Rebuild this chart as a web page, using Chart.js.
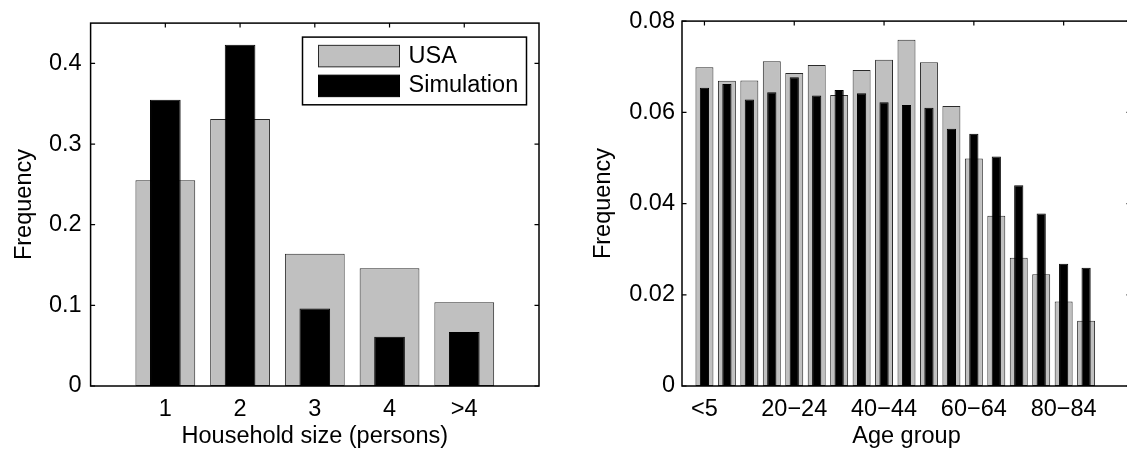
<!DOCTYPE html>
<html>
<head>
<meta charset="utf-8">
<script src="https://cdn.jsdelivr.net/npm/chart.js@4.4.1/dist/chart.umd.min.js"></script>
<style>
  html, body { margin: 0; padding: 0; overflow: hidden; background: #fff; width: 1127px; height: 456px; }
  #household { position: absolute; left: 0; top: 0; }
  #age { position: absolute; left: 565px; top: 0; }
</style>
</head>
<body>
<canvas id="household" width="565" height="456"></canvas>
<canvas id="age" width="620" height="456"></canvas>
<script>
// Household size distribution
const householdSizes = ['1', '2', '3', '4', '>4'];
const householdUSA = [0.255, 0.331, 0.164, 0.146, 0.104];
const householdSim = [0.355, 0.423, 0.096, 0.061, 0.067];
const householdTicksY = [0, 0.1, 0.2, 0.3, 0.4];

// Age structure
const ageGroups = ['<5', '5−9', '10−14', '15−19', '20−24', '25−29', '30−34', '35−39', '40−44',
                   '45−49', '50−54', '55−59', '60−64', '65−69', '70−74', '75−79', '80−84', '85+'];
const ageUSA = [0.0699, 0.0669, 0.0670, 0.0712, 0.0686, 0.0704, 0.0638, 0.0693, 0.0715,
                0.0759, 0.0710, 0.0614, 0.0499, 0.0373, 0.0281, 0.0245, 0.0185, 0.0143];
const ageSim = [0.0654, 0.0662, 0.0628, 0.0644, 0.0677, 0.0637, 0.0649, 0.0642, 0.0622,
                0.0616, 0.0610, 0.0564, 0.0553, 0.0503, 0.0440, 0.0378, 0.0268, 0.0259];
const ageTicksY = [0, 0.02, 0.04, 0.06, 0.08];
const ageLabelStep = 4;

const FONT = '"Liberation Sans", Arial, Helvetica, sans-serif';
const FONT_SIZE = 23.5;
Chart.defaults.font.family = FONT;
Chart.defaults.font.size = FONT_SIZE;
Chart.defaults.color = '#000';

const GRAY = '#c0c0c0';

// Box around the axes with inward-pointing tick marks
const axesFrame = {
  id: 'axesFrame',
  beforeDatasetsDraw(chart, args, o) {
    const { ctx, chartArea: a, scales: { x, y } } = chart;
    ctx.save();
    ctx.strokeStyle = '#000';
    ctx.lineWidth = 1.2;
    ctx.beginPath();
    x.ticks.forEach(t => {
      const px = x.getPixelForValue(t.value);
      ctx.moveTo(px, a.top); ctx.lineTo(px, a.top + o.tick);
      ctx.moveTo(px, a.bottom); ctx.lineTo(px, a.bottom - o.tick);
    });
    y.ticks.forEach(t => {
      const py = y.getPixelForValue(t.value);
      ctx.moveTo(a.left, py); ctx.lineTo(a.left + o.tick, py);
      ctx.moveTo(a.right, py); ctx.lineTo(a.right - o.tick, py);
    });
    ctx.stroke();
    ctx.restore();
  },
  afterDatasetsDraw(chart) {
    const { ctx, chartArea: a } = chart;
    ctx.save();
    ctx.strokeStyle = '#000';
    ctx.lineWidth = 1.5;
    ctx.strokeRect(a.left, a.top, a.right - a.left, a.bottom - a.top);
    ctx.restore();
  }
};

// Framed legend inside the top-right corner of the plot area
const boxedLegend = {
  id: 'boxedLegend',
  afterDraw(chart, args, o) {
    if (!o.show) return;
    const { ctx, chartArea: a } = chart;
    const right = a.right - o.marginRight;
    const top = a.top + o.marginTop;
    const left = right - o.width;
    ctx.save();
    ctx.fillStyle = '#fff';
    ctx.fillRect(left, top, o.width, o.height);
    ctx.strokeStyle = '#000';
    ctx.lineWidth = 1.5;
    ctx.strokeRect(left, top, o.width, o.height);
    ctx.font = FONT_SIZE + 'px ' + FONT;
    ctx.textBaseline = 'middle';
    ctx.textAlign = 'left';
    chart.data.datasets.forEach((ds, i) => {
      const cy = top + o.firstRow + i * o.rowStep;
      ctx.fillStyle = ds.backgroundColor;
      ctx.fillRect(left + o.swatchX, cy - o.swatchH / 2, o.swatchW, o.swatchH);
      ctx.strokeStyle = ds.borderColor;
      ctx.lineWidth = 1;
      ctx.strokeRect(left + o.swatchX, cy - o.swatchH / 2, o.swatchW, o.swatchH);
      ctx.fillStyle = '#000';
      ctx.fillText(ds.label, left + o.textX, cy);
    });
    ctx.restore();
  }
};

function makeChart(id, cfg) {
  const labelsFor = cfg.categories;
  return new Chart(document.getElementById(id), {
    type: 'bar',
    data: {
      datasets: [
        {
          label: 'USA',
          data: cfg.usa.map((v, i) => ({ x: i + 1, y: v })),
          backgroundColor: GRAY,
          borderColor: '#2a2a2a',
          borderWidth: 1,
          borderSkipped: false,
          grouped: false,
          categoryPercentage: 1,
          barPercentage: 0.8,
          order: 2
        },
        {
          label: 'Simulation',
          data: cfg.sim.map((v, i) => ({ x: i + 1, y: v })),
          backgroundColor: '#000',
          borderColor: '#000',
          borderWidth: 1,
          borderSkipped: false,
          grouped: false,
          categoryPercentage: 1,
          barPercentage: 0.41,
          order: 1
        }
      ]
    },
    options: {
      responsive: false,
      animation: false,
      events: [],
      layout: { padding: { top: 7, right: cfg.padRight, bottom: 0, left: 0 } },
      plugins: {
        legend: { display: false },
        tooltip: { enabled: false },
        axesFrame: { tick: 4.5 },
        boxedLegend: cfg.legend || { show: false }
      },
      scales: {
        x: {
          type: 'linear',
          min: 0,
          max: cfg.xMax,
          offset: false,
          grid: { display: false, drawTicks: false, offset: false },
          border: { display: false },
          afterBuildTicks(scale) {
            scale.ticks = labelsFor
              .map((_, i) => i + 1)
              .filter(v => (v - 1) % cfg.labelStep === 0)
              .map(v => ({ value: v }));
          },
          afterFit(scale) { scale.height = 70; },
          ticks: {
            autoSkip: false,
            maxRotation: 0,
            padding: 9,
            callback: v => labelsFor[v - 1]
          },
          title: {
            display: true,
            text: cfg.xTitle,
            padding: { top: 0, bottom: 5.5 }
          }
        },
        y: {
          min: 0,
          max: cfg.yMax,
          grid: { display: false, drawTicks: false },
          border: { display: false },
          afterBuildTicks(scale) { scale.ticks = cfg.yTicks.map(v => ({ value: v })); },
          afterFit(scale) { scale.width = cfg.yWidth; },
          ticks: {
            padding: cfg.yPad,
            callback: v => String(+v.toFixed(2))
          },
          title: {
            display: true,
            text: 'Frequency',
            padding: { top: cfg.yTitlePad, bottom: 0 }
          }
        }
      }
    },
    plugins: [axesFrame, boxedLegend]
  });
}

makeChart('household', {
  categories: householdSizes,
  usa: householdUSA,
  sim: householdSim,
  xMax: 6,
  yMax: 0.45,
  yTicks: householdTicksY,
  labelStep: 1,
  xTitle: 'Household size (persons)',
  yWidth: 90.6,
  yPad: 9,
  yTitlePad: 10,
  padRight: 26,
  legend: {
    show: true, marginRight: 12.5, marginTop: 14, width: 224, height: 67.7,
    swatchX: 16, swatchW: 81, swatchH: 21.5, firstRow: 19, rowStep: 29.8, textX: 106
  }
});

makeChart('age', {
  categories: ageGroups,
  usa: ageUSA,
  sim: ageSim,
  xMax: 20,
  yMax: 0.08,
  yTicks: ageTicksY,
  labelStep: ageLabelStep,
  xTitle: 'Age group',
  yWidth: 117,
  yPad: 7,
  yTitlePad: 24,
  padRight: 54
});
</script>
</body>
</html>
